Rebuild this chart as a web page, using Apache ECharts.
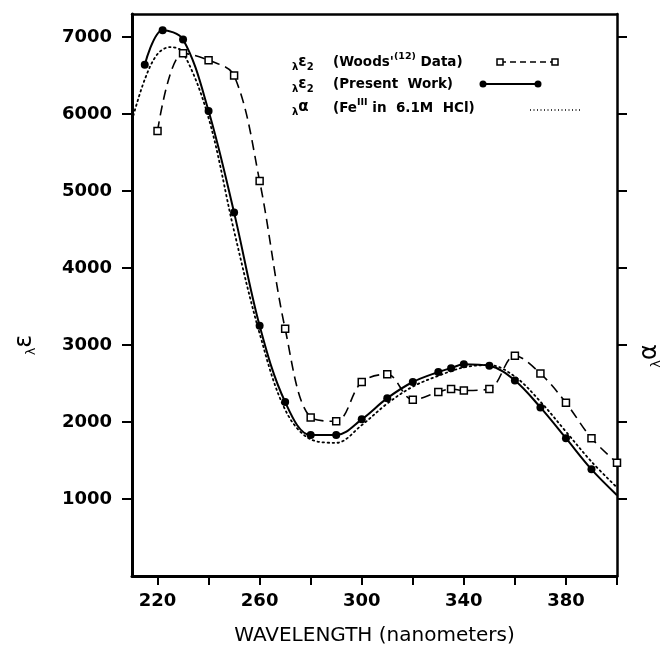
<!DOCTYPE html>
<html>
<head>
<meta charset="utf-8">
<script src="https://cdn.jsdelivr.net/npm/echarts@6/dist/echarts.min.js"></script>
<style>
  html, body { margin: 0; padding: 0; background: #fff; }
  #chart-container { width: 663px; height: 662px; }
</style>
</head>
<body>
<div id="chart-container"></div>
<script>
// wavelengths (nm) and values
let woodsNm = [220, 230, 240, 250, 260, 270, 280, 290, 300, 310, 320, 330, 335, 340, 350, 360, 370, 380, 390, 400];
let woodsVal = [5780, 6790, 6700, 6500, 5130, 3210, 2060, 2010, 2520, 2620, 2290, 2390, 2430, 2410, 2430, 2860, 2630, 2250, 1790, 1470];

let presentNm = [215, 222, 230, 240, 250, 260, 270, 280, 290, 300, 310, 320, 330, 335, 340, 350, 360, 370, 380, 390, 400];
let presentVal = [6640, 7090, 6970, 6040, 4720, 3250, 2260, 1830, 1830, 2035, 2310, 2520, 2650, 2700, 2750, 2730, 2540, 2190, 1790, 1385, 1050];

let alphaNm = [210, 215, 220, 225, 230, 240, 250, 260, 270, 280, 290, 300, 310, 320, 330, 340, 350, 360, 370, 380, 390, 400];
let alphaVal = [5920, 6450, 6780, 6870, 6800, 5950, 4480, 3150, 2160, 1775, 1730, 1960, 2240, 2460, 2600, 2710, 2740, 2590, 2265, 1875, 1485, 1150];

let xTicks = [220, 240, 260, 280, 300, 320, 340, 360, 380, 400];
let xTickLabels = [220, 260, 300, 340, 380];
let yTickLabels = [1000, 2000, 3000, 4000, 5000, 6000, 7000];

let dom = document.getElementById("chart-container");
let myChart = echarts.init(dom, null, {
    renderer: "canvas",
    useDirtyRect: false,
});

let font = "DejaVu Sans";

function pairs(xs, ys) {
    return xs.map(function (x, i) { return [x, ys[i]]; });
}

// last point of present work has no marker (curve just runs into the frame)
let presentData = pairs(presentNm, presentVal).map(function (p, i) {
    if (i === presentNm.length - 1) return { value: p, symbol: "none" };
    return p;
});

let legendRich = {
    l: { fontFamily: font, fontSize: 10, fontWeight: "bold", verticalAlign: "bottom", lineHeight: 20, padding: [8, 0, 0, 0] },
    e: { fontFamily: font, fontSize: 15, fontWeight: "bold", lineHeight: 20 },
    s: { fontFamily: font, fontSize: 10, fontWeight: "bold", verticalAlign: "bottom", lineHeight: 20, padding: [8, 0, 0, 0] },
    sup: { fontFamily: font, fontSize: 9.5, fontWeight: "bold", verticalAlign: "top", lineHeight: 20, padding: [0, 0, 6, 0] },
};
let legendFont = "bold 13.5px DejaVu Sans";

let option;

option = {
    backgroundColor: "#fff",
    animation: false,
    grid: {
        left: 132,
        right: 46,
        top: 14,
        bottom: 86,
    },
    xAxis: [{
        type: "value",
        min: 210,
        max: 400,
        name: "WAVELENGTH (nanometers)",
        nameLocation: "middle",
        nameGap: 50,
        nameTextStyle: { fontFamily: font, fontSize: 20, color: "#000" },
        axisLine: { lineStyle: { color: "#000", width: 3 } },
        axisTick: { customValues: xTicks, length: 9, lineStyle: { color: "#000", width: 2 } },
        axisLabel: {
            customValues: xTickLabels, margin: 16, fontFamily: font, fontSize: 18, fontWeight: "bold", color: "#000",
            formatter: function (v) { return String(v); },
        },
        splitLine: { show: false },
    }, {
        type: "value",
        position: "top",
        min: 210,
        max: 400,
        axisLine: { show: true, onZero: false, lineStyle: { color: "#000", width: 2.5 } },
        axisTick: { show: false },
        axisLabel: { show: false },
        splitLine: { show: false },
    }],
    yAxis: [{
        type: "value",
        min: 0,
        max: 7300,
        axisLine: { show: true, lineStyle: { color: "#000", width: 3 } },
        axisTick: { show: true, customValues: yTickLabels, length: 10, lineStyle: { color: "#000", width: 2 } },
        axisLabel: {
            customValues: yTickLabels, margin: 20, fontFamily: font, fontSize: 18, fontWeight: "bold", color: "#000",
            formatter: function (v) { return String(v); },
        },
        splitLine: { show: false },
    }, {
        type: "value",
        position: "right",
        min: 0,
        max: 7300,
        axisLine: { show: true, onZero: false, lineStyle: { color: "#000", width: 2.5 } },
        axisTick: { show: true, customValues: yTickLabels, length: 10, lineStyle: { color: "#000", width: 2 } },
        axisLabel: { show: false },
        splitLine: { show: false },
    }],
    series: [{
        name: "Woods",
        type: "line",
        smooth: 0.35,
        data: pairs(woodsNm, woodsVal),
        symbol: "rect",
        symbolSize: 7,
        lineStyle: { color: "#000", width: 1.6, type: [10, 6] },
        itemStyle: { color: "#fff", borderColor: "#000", borderWidth: 1.5 },
        z: 3,
    }, {
        name: "Present",
        type: "line",
        smooth: 0.35,
        data: presentData,
        symbol: "circle",
        symbolSize: 8,
        lineStyle: { color: "#000", width: 2 },
        itemStyle: { color: "#000" },
        z: 4,
    }, {
        name: "alpha",
        type: "line",
        smooth: 0.35,
        data: pairs(alphaNm, alphaVal),
        symbol: "none",
        lineStyle: { color: "#000", width: 1.8, type: [1.5, 3.5], cap: "round" },
        z: 2,
    }],
    graphic: [
        // y axis titles
        { type: "text", x: 25, y: 345, rotation: Math.PI / 2,
          style: { text: "{l|λ}{e|ε}", rich: { l: { fontFamily: font, fontSize: 13, verticalAlign: "bottom", lineHeight: 26, padding: [10, 0, 0, 0] }, e: { fontFamily: font, fontSize: 24, lineHeight: 26 } }, align: "center", verticalAlign: "middle", fill: "#000" } },
        { type: "text", x: 650, y: 356, rotation: Math.PI / 2,
          style: { text: "{l|λ}{e|α}", rich: { l: { fontFamily: font, fontSize: 13, verticalAlign: "bottom", lineHeight: 26, padding: [10, 0, 0, 0] }, e: { fontFamily: font, fontSize: 24, lineHeight: 26 } }, align: "center", verticalAlign: "middle", fill: "#000" } },
        // legend
        { type: "text", x: 292, y: 62, style: { text: "{l|λ}{e|ε}{s|2}", rich: legendRich, verticalAlign: "middle", fill: "#000" } },
        { type: "text", x: 333, y: 62, style: { text: "(Woods'{sup|(12)} Data)", rich: legendRich, font: legendFont, verticalAlign: "middle", fill: "#000" } },
        { type: "line", shape: { x1: 500, y1: 62, x2: 555, y2: 62 }, style: { stroke: "#000", lineWidth: 1.5, lineDash: [6, 4] } },
        { type: "rect", shape: { x: 497, y: 59, width: 6, height: 6 }, style: { fill: "#fff", stroke: "#000", lineWidth: 1.5 } },
        { type: "rect", shape: { x: 552, y: 59, width: 6, height: 6 }, style: { fill: "#fff", stroke: "#000", lineWidth: 1.5 } },

        { type: "text", x: 292, y: 84, style: { text: "{l|λ}{e|ε}{s|2}", rich: legendRich, verticalAlign: "middle", fill: "#000" } },
        { type: "text", x: 333, y: 84, style: { text: "(Present  Work)", font: legendFont, verticalAlign: "middle", fill: "#000" } },
        { type: "line", shape: { x1: 483, y1: 84, x2: 538, y2: 84 }, style: { stroke: "#000", lineWidth: 2 } },
        { type: "circle", shape: { cx: 483, cy: 84, r: 3.5 }, style: { fill: "#000" } },
        { type: "circle", shape: { cx: 538, cy: 84, r: 3.5 }, style: { fill: "#000" } },

        { type: "text", x: 292, y: 107, style: { text: "{l|λ}{e|α}", rich: legendRich, verticalAlign: "middle", fill: "#000" } },
        { type: "text", x: 333, y: 108, style: { text: "(Fe{sup|III} in  6.1M  HCl)", rich: legendRich, font: legendFont, verticalAlign: "middle", fill: "#000" } },
        { type: "line", shape: { x1: 530, y1: 110, x2: 580, y2: 110 }, style: { stroke: "#000", lineWidth: 1.5, lineDash: [1, 2.5] } },
    ],
};

if (option && typeof option === "object") {
    myChart.setOption(option);
}

window.addEventListener("resize", myChart.resize);
</script>
</body>
</html>
